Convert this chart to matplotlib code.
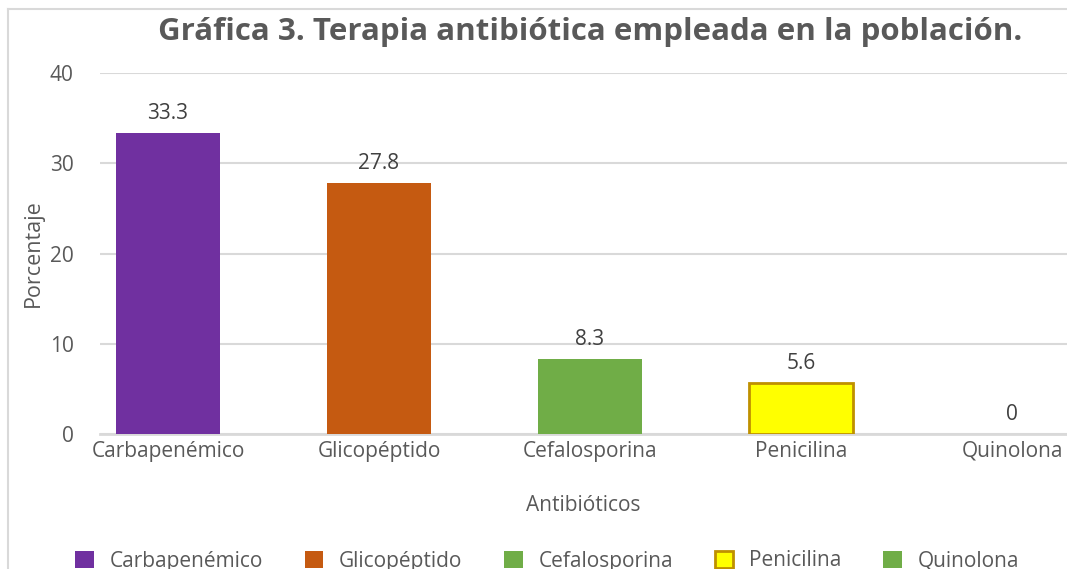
import matplotlib.pyplot as plt
from matplotlib.lines import Line2D

plt.rcParams['font.family'] = ['Open Sans', 'DejaVu Sans']

categories = ["Carbapenémico", "Glicopéptido", "Cefalosporina", "Penicilina", "Quinolona"]
values = [33.3, 27.8, 8.3, 5.6, 0]
labels = ["33.3", "27.8", "8.3", "5.6", "0"]
colors = ["#7030A0", "#C55A11", "#70AD47", "#FFFF00", "#70AD47"]
edges = ["#7030A0", "#C55A11", "#70AD47", "#BF9000", "#70AD47"]
edge_w = [0, 0, 0, 2, 0]

fig = plt.figure(figsize=(10.67, 5.69), dpi=100)
ax = fig.add_axes([100 / 1067, 1 - 434 / 569, 1 - 100 / 1067, (434 - 73) / 569])

x = list(range(len(categories)))
bars = ax.bar(x, values, width=0.49, color=colors, edgecolor=edges, linewidth=edge_w, zorder=3)

for xi, v, lab in zip(x, values, labels):
    ax.text(xi, v + 1.0, lab, ha="center", va="bottom", fontsize=15, color="#404040")

ax.set_xlim(-0.322, 4.26)
ax.set_ylim(0, 40)
ax.set_yticks([0, 10, 20, 30, 40])
ax.set_xticks(x)
ax.set_xticklabels(categories)
ax.tick_params(axis="both", length=0, labelsize=15, colors="#595959")
ax.tick_params(axis="y", pad=19)
ax.tick_params(axis="x", pad=5)
ax.grid(axis="y", color="#D9D9D9", linewidth=1.5, zorder=0)
for s in ["top", "right", "left"]:
    ax.spines[s].set_visible(False)
ax.spines["bottom"].set_color("#D9D9D9")
ax.spines["bottom"].set_linewidth(2)

ax.set_ylabel("Porcentaje", fontsize=15.5, color="#595959", labelpad=4)
ax.set_xlabel("Antibióticos", fontsize=15, color="#595959", labelpad=24)

fig.text(590 / 1067, 1 - 32 / 569, "Gráfica 3. Terapia antibiótica empleada en la población.",
         ha="center", va="center", fontsize=22.5, fontweight="bold", color="#595959")

leg = fig.legend(bars, categories, loc="center", bbox_to_anchor=(547 / 1067, 1 - 561 / 569),
                 ncol=5, frameon=False, fontsize=15, handlelength=0.9, handleheight=0.9,
                 columnspacing=2.0, handletextpad=0.75)
for t in leg.get_texts():
    t.set_color("#595959")

# chart area border (cropped)
fig.add_artist(Line2D([8 / 1067, 8 / 1067], [0, 1 - 9 / 569], color="#D9D9D9", linewidth=1.5,
                      transform=fig.transFigure))
fig.add_artist(Line2D([8 / 1067, 1], [1 - 9 / 569, 1 - 9 / 569], color="#D9D9D9", linewidth=1.5,
                      transform=fig.transFigure))

fig.savefig("out.png", dpi=100)
